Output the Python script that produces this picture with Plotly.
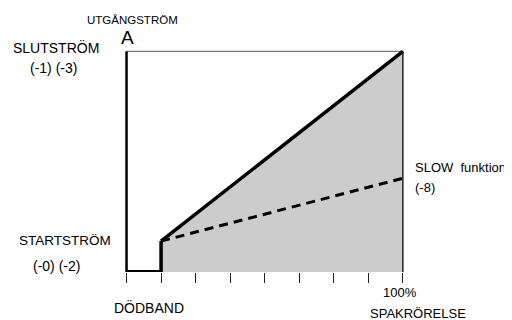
import plotly.graph_objects as go

# Data (x: % lever movement, y: % output current)
dead_band = 12.5
start_current = 14
end_current = 100
slow_end_current = 42.5
tick_positions = [0, 12.5, 25, 37.5, 50, 62.5, 75, 87.5, 100]

# Fill area
fill_x = [dead_band, dead_band, 100, 100]
fill_y = [0, start_current, end_current, 0]

# Lines
left_x = [0, 0]
left_y = [0, 100]
top_x = [0, 100]
top_y = [100, 100]
right_x = [100, 100]
right_y = [0, 100]
bottom_x = [0, dead_band]
bottom_y = [0, 0]
step_x = [dead_band, dead_band]
step_y = [0, start_current]
main_x = [dead_band, 100]
main_y = [start_current, end_current]
slow_x = [dead_band, 100]
slow_y = [start_current, slow_end_current]

# page body has 8px margin; work in window pixels, then shift
OFF = 8
X0, Y0 = 127 - OFF, 272 - OFF   # window px of data (0,0) minus offset
PX = 2.76
PY = 2.21
XR = [-2, 101.5]
YR = [0, 102]
W, H = 512, 320
left = X0 + XR[0] * PX
right = X0 + XR[1] * PX
top = Y0 - YR[1] * PY
bottom = Y0 - YR[0] * PY

def fx(px):
    return ((px - OFF) - left) / (right - left)

def fy(py):
    return (bottom - (py - OFF)) / (bottom - top)

fig = go.Figure()
fig.add_trace(go.Scatter(x=fill_x, y=fill_y, fill="toself", fillcolor="#cccccc",
                         line=dict(width=0), mode="lines", hoverinfo="skip"))
fig.add_trace(go.Scatter(x=top_x, y=top_y, mode="lines", line=dict(color="#777777", width=1.2)))
fig.add_trace(go.Scatter(x=right_x, y=right_y, mode="lines", line=dict(color="#222222", width=1.5)))
fig.add_trace(go.Scatter(x=left_x, y=left_y, mode="lines", line=dict(color="black", width=2.5)))
fig.add_trace(go.Scatter(x=bottom_x, y=bottom_y, mode="lines", line=dict(color="black", width=4)))
fig.add_trace(go.Scatter(x=step_x, y=step_y, mode="lines", line=dict(color="black", width=3.5)))
fig.add_trace(go.Scatter(x=main_x, y=main_y, mode="lines", line=dict(color="black", width=3.5)))
fig.add_trace(go.Scatter(x=slow_x, y=slow_y, mode="lines",
                         line=dict(color="black", width=3, dash="9px,6px")))

font = "Liberation Sans, Arial, sans-serif"
anns = [
    ("UTGÅNGSTRÖM", 133, 19.5, 11.5, "center"),
    ("A", 128, 37.5, 19, "center"),
    ("SLUTSTRÖM", 56.5, 47, 14, "center"),
    ("(-1) (-3)", 54, 67.5, 14, "center"),
    ("STARTSTRÖM", 66, 240, 13.5, "center"),
    ("(-0) (-2)", 57, 266, 14, "center"),
    ("DÖDBAND", 149, 308, 14, "center"),
    ("100%", 400, 293, 13, "center"),
    ("SPAKRÖRELSE", 418.5, 314, 13, "center"),
    ("SLOW  funktion", 413, 167, 13, "left"),
    ("(-8)", 413, 187.5, 13, "left"),
]
annotations = []
for text, px, py, size, anchor in anns:
    annotations.append(dict(
        text=text, x=fx(px), y=fy(py), xref="paper", yref="paper",
        xanchor=anchor, yanchor="middle", showarrow=False,
        font=dict(family=font, size=size, color="black")))

fig.update_layout(
    width=W, height=H,
    margin=dict(l=left, r=W - right, t=top, b=H - bottom, pad=0),
    paper_bgcolor="white", plot_bgcolor="white",
    showlegend=False,
    annotations=annotations,
    xaxis=dict(range=XR, showgrid=False, zeroline=False, showline=False,
               tickmode="array", tickvals=tick_positions, ticks="outside",
               ticklen=10, tickwidth=1, tickcolor="#222222", showticklabels=False,
               fixedrange=True),
    yaxis=dict(range=YR, showgrid=False, zeroline=False, showline=False,
               showticklabels=False, ticks="", fixedrange=True),
)
fig.write_html("out.html")
